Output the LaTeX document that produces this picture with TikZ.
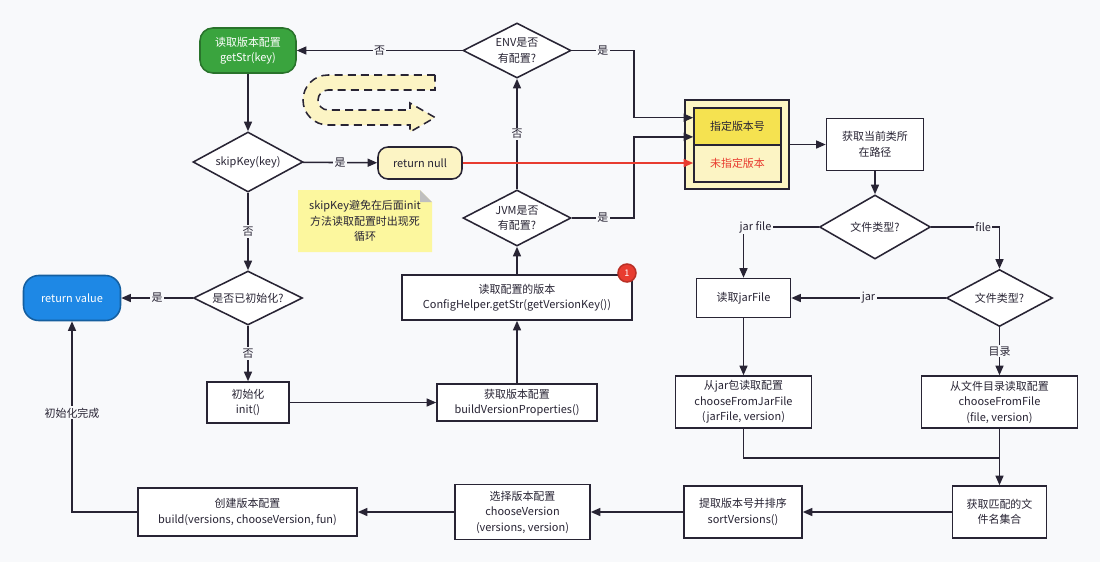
\documentclass[tikz,border=0pt]{standalone}
\usepackage{fontspec}
\newfontfamily\cjk{Noto Sans CJK SC}
\usetikzlibrary{arrows.meta,shapes.geometric,positioning}

\definecolor{bgcol}{RGB}{248,249,251}
\definecolor{ink}{RGB}{40,36,52}
\definecolor{okgreen}{RGB}{58,164,62}
\definecolor{okblue}{RGB}{30,136,229}
\definecolor{nullfill}{RGB}{252,244,196}
\definecolor{notefill}{RGB}{252,247,158}
\definecolor{grpfill}{RGB}{253,246,196}
\definecolor{specfill}{RGB}{245,226,80}
\definecolor{warnred}{RGB}{232,60,48}

\begin{document}
\begin{tikzpicture}[x=0.025cm,y=-0.025cm,line width=1.1pt,color=ink,text=ink,
	font=\cjk\fontsize{7.8}{11}\selectfont,
	>={Triangle[length=2.4mm,width=2mm]},
	box/.style={draw,fill=white,align=center,inner sep=1pt},
	dec/.style={diamond,draw,fill=white,align=center,shape aspect=2,inner sep=0.5pt},
	term/.style={draw,rounded corners=3.2mm,align=center,text=white},
	lbl/.style={fill=bgcol,inner sep=1pt}]
	      	      			\fill[bgcol] (0,0) rectangle (1100,562);
	      	      			
	      	      			\node[term,fill=okgreen,draw=okgreen!70!black,minimum width=24mm,minimum height=11.25mm] (get_str) at (248,50.5) {读取版本配置\\getStr(key)};
	      	      			\node[dec,minimum width=27.5mm,minimum height=15mm] (skip_key) at (248,162) {skipKey(key)};
	      	      			\node[draw,rounded corners=2.5mm,fill=nullfill,minimum width=21mm,minimum height=8mm] (ret_null) at (420,163) {return null};
	      	      			\node[dec,minimum width=27.25mm,minimum height=13.5mm] (is_init) at (248,298) {是否已初始化?};
	      	      			\node[term,fill=okblue,draw=okblue!70!black,rounded corners=3.8mm,minimum width=24.25mm,minimum height=11.25mm] (ret_val) at (72,298) {return value};
	      	      			\node[box,minimum width=20.5mm,minimum height=10.25mm] (init) at (248,402.5) {初始化\\init()};
	      	      			
	      	      			\node[dec,minimum width=27mm,minimum height=13.75mm] (env) at (517,50.5) {ENV是否\\有配置?};
	      	      			\node[dec,minimum width=27mm,minimum height=14mm] (jvm) at (517,218) {JVM是否\\有配置?};
	      	      			\node[box,minimum width=57.5mm,minimum height=11.25mm] (read_ver) at (517,297.5) {读取配置的版本\\ConfigHelper.getStr(getVersionKey())};
	      	      			\node[circle,draw=warnred!80!black,fill=warnred,text=white,minimum size=4.5mm,inner sep=0pt,font=\cjk\fontsize{6.5}{7}\selectfont] (badge) at (627,273) {1};
	      	      			\node[box,minimum width=40mm,minimum height=9.25mm] (build_props) at (517,402.5) {获取版本配置\\buildVersionProperties()};
	      	      			
	      	      			\node[draw,fill=grpfill,minimum width=26mm,minimum height=22.25mm] (ver_group) at (737,144.5) {};
	      	      			\node[box,fill=specfill,minimum width=21.75mm,minimum height=9.25mm] (spec) at (737.5,126.5) {指定版本号};
	      	      			\node[box,fill=nullfill,text=warnred,minimum width=21.75mm,minimum height=9.25mm] (unspec) at (737.5,163.5) {未指定版本};
	      	      			\node[box,minimum width=24.25mm,minimum height=13mm] (cur_path) at (875,144.5) {获取当前类所\\在路径};
	      	      			\node[dec,minimum width=27.75mm,minimum height=16mm] (ftype) at (875,227) {文件类型?};
	      	      			\node[dec,minimum width=26.5mm,minimum height=14.25mm] (ftype_b) at (999.5,298) {文件类型?};
	      	      			\node[box,minimum width=23.5mm,minimum height=9.75mm] (read_jar) at (743.5,298) {读取jarFile};
	      	      			\node[box,minimum width=34mm,minimum height=13mm] (from_jar) at (743.5,402) {从jar包读取配置\\chooseFromJarFile\\(jarFile, version)};
	      	      			\node[box,minimum width=39mm,minimum height=13mm] (from_dir) at (999.5,402) {从文件目录读取配置\\chooseFromFile\\(file, version)};
	      	      			\coordinate (merge) at (999.5,458);
	      	      			
	      	      			\node[box,minimum width=23.5mm,minimum height=13mm] (match_files) at (999.5,512) {获取匹配的文\\件名集合};
	      	      			\node[box,minimum width=29.5mm,minimum height=13mm] (sort_ver) at (743,512) {提取版本号并排序\\sortVersions()};
	      	      			\node[box,minimum width=33.75mm,minimum height=13.75mm] (choose_ver) at (522.5,512) {选择版本配置\\chooseVersion\\(versions, version)};
	      	      			\node[box,minimum width=54.75mm,minimum height=12mm] (build_cfg) at (247.5,512) {创建版本配置\\build(versions, chooseVersion, fun)};
	      	      			
	      	      			\draw[dash pattern=on 2mm off 1.3mm,fill=nullfill] (435,75) -- (328,75) .. controls (314.2,75) and (303,86.2) .. (303,100) .. controls (303,113.8) and (314.2,125) .. (328,125) -- (410,125) -- (410,132) -- (435,117.5) -- (410,103) -- (410,110) -- (328,110) .. controls (322.5,110) and (318,105.5) .. (318,100) .. controls (318,94.5) and (322.5,90) .. (328,90) -- (435,90) -- cycle;
	      	      			
	      	      			\fill[notefill] (298,190) -- (420,190) -- (432,202) -- (432,252) -- (298,252) -- cycle;
	      	      			\fill[black!25] (420,190) -- (420,202) -- (432,202) -- cycle;
	      	      			\node[align=center] (note) at (365,221) {skipKey避免在后面init\\方法读取配置时出现死\\循环};
	      	      			
	      	      			\path[->] 
	      	      			(get_str) 	edge (skip_key)
	      	      			(skip_key) 	edge node[lbl] {是} (ret_null)
	      	      					edge node[lbl] {否} (is_init)
	      	      			(is_init) 	edge node[lbl] {是} (ret_val)
	      	      					edge node[lbl] {否} (init)
	      	      			(init) 	edge (build_props)
	      	      			(build_props) 	edge (read_ver)
	      	      			(read_ver) 	edge (jvm)
	      	      			(jvm) 	edge node[lbl] {否} (env)
	      	      			(env) 	edge node[lbl] {否} (get_str)
	      	      			(ver_group) 	edge (cur_path)
	      	      			(cur_path) 	edge (ftype)
	      	      			(ftype_b) 	edge node[lbl] {jar} (read_jar)
	      	      					edge node[lbl] {目录} (from_dir)
	      	      			(read_jar) 	edge (from_jar)
	      	      			(from_dir) 	edge (match_files)
	      	      			(match_files) 	edge (sort_ver)
	      	      			(sort_ver) 	edge (choose_ver)
	      	      			(choose_ver) 	edge (build_cfg);
	      	      			
	      	      			\draw[->] (env.east) -- node[lbl] {是} ++(62,0) |- ([yshift=2.2mm]spec.west);
	      	      			\draw[->] (jvm.east) -- node[lbl] {是} ++(62,0) |- ([yshift=-2.6mm]spec.west);
	      	      			\draw[->,warnred] (ret_null.east) -- (ret_null.east -| unspec.west);
	      	      			\draw[->] (ftype.west) -| node[lbl,pos=0.42] {jar file} (read_jar);
	      	      			\draw[->] (ftype.east) -| node[lbl,pos=0.38] {file} (ftype_b);
	      	      			\draw (from_jar) |- (merge);
	      	      			\draw[->] (build_cfg.west) -| node[lbl,pos=0.76] {初始化完成} (ret_val);
	      	      		\end{tikzpicture}
\end{document}
